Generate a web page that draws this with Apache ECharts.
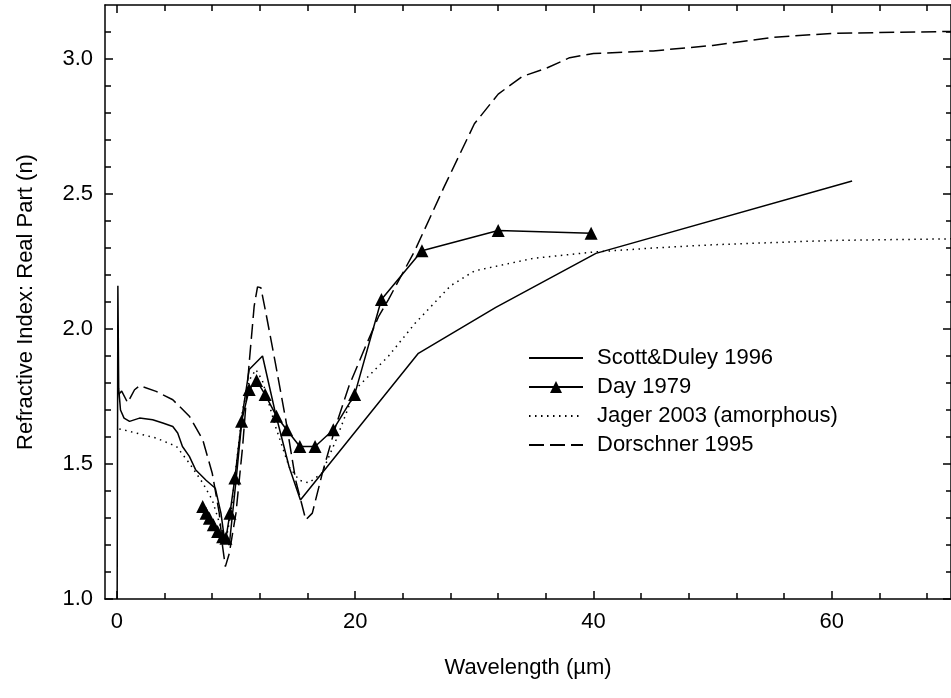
<!DOCTYPE html>
<html>
<head>
<meta charset="utf-8">
<script src="https://cdn.jsdelivr.net/npm/echarts@6/dist/echarts.min.js"></script>
<style>html,body{margin:0;padding:0;background:#fff}#c{width:951px;height:698px}</style>
</head>
<body>
<div id="c"></div>
<script>
const seriesNames = ['Scott&Duley 1996', 'Day 1979', 'Jager 2003 (amorphous)', 'Dorschner 1995'];
const xLabelTicks = [0, 20, 40, 60];
const xMinorTicks = [0,4,8,12,16,20,24,28,32,36,40,44,48,52,56,60,64,68];
const yLabelTicks = [1.0, 1.5, 2.0, 2.5, 3.0];
const yMinorTicks = [1.0,1.1,1.2,1.3,1.4,1.5,1.6,1.7,1.8,1.9,2.0,2.1,2.2,2.3,2.4,2.5,2.6,2.7,2.8,2.9,3.0,3.1];

const scottDuley = [[0.02,1.0],[0.08,2.16],[0.15,1.78],[0.3,1.70],[0.6,1.67],[1.06,1.658],[1.9,1.67],[3.0,1.664],[3.85,1.652],[4.69,1.639],[5.1,1.615],[5.5,1.565],[6.08,1.528],[6.6,1.479],[7.48,1.44],[8.26,1.41],[8.73,1.318],[9.0,1.231],[9.43,1.2],[10.0,1.44],[10.55,1.689],[11.1,1.85],[12.22,1.9],[13.3,1.689],[14.45,1.49],[15.4,1.367],[25.3,1.91],[31.8,2.08],[40.2,2.28],[61.7,2.548]];
const day1979 = [[7.2,1.343],[7.48,1.318],[7.76,1.299],[8.09,1.275],[8.45,1.25],[8.87,1.231],[9.15,1.225],[9.49,1.318],[9.9,1.448],[10.46,1.658],[11.1,1.776],[11.72,1.809],[12.44,1.757],[13.39,1.677],[14.25,1.627],[15.35,1.565],[16.63,1.565],[18.16,1.627],[19.95,1.757],[22.2,2.109],[25.6,2.29],[32.0,2.365],[39.8,2.355]];
const jager2003 = [[0.2,1.63],[0.5,1.627],[3.3,1.596],[5.0,1.565],[6.08,1.503],[7.2,1.43],[8.0,1.367],[8.7,1.268],[9.15,1.219],[9.57,1.318],[10.0,1.49],[10.55,1.70],[11.1,1.81],[11.66,1.85],[12.2,1.81],[13.3,1.64],[14.45,1.49],[15.3,1.44],[16.1,1.43],[17.2,1.466],[18.4,1.59],[20.0,1.776],[22.8,1.9],[25,2.02],[28,2.16],[30,2.215],[35,2.262],[40,2.285],[45,2.30],[50,2.312],[60,2.328],[70,2.334]];
const dorschner1995 = [[0.2,1.76],[0.4,1.77],[0.9,1.727],[1.48,1.775],[1.9,1.79],[3.29,1.769],[4.69,1.738],[6.08,1.677],[7.2,1.59],[8.0,1.466],[8.59,1.318],[8.87,1.194],[9.1,1.12],[9.43,1.169],[9.99,1.318],[10.55,1.565],[11.1,1.874],[11.52,2.085],[11.8,2.156],[12.08,2.153],[12.5,2.06],[13.3,1.874],[14.17,1.664],[15.0,1.44],[15.85,1.293],[16.4,1.318],[17.24,1.466],[18.36,1.64],[19.47,1.788],[20.87,1.936],[21.98,2.048],[22.8,2.11],[25,2.29],[27.5,2.53],[30,2.76],[32,2.87],[34,2.935],[36,2.965],[38,3.005],[40,3.02],[45,3.03],[50,3.05],[55,3.08],[60,3.095],[70,3.102]];

const FONT = 'Liberation Sans, Arial, sans-serif';
const chart = echarts.init(document.getElementById('c'), null, {renderer: 'canvas'});
const axLine = {show: true, onZero: false, lineStyle: {color: '#000', width: 1.5}};
const noLine = {show: false, onZero: false};
function xAx(pos, ticks, len, labels, line) {
  return {
    type: 'value', position: pos, min: -1, max: 70, gridIndex: 0,
    axisLine: line ? axLine : noLine,
    splitLine: {show: false},
    axisTick: {show: true, inside: true, length: len, customValues: ticks, lineStyle: {color: '#000', width: 1.5}},
    axisLabel: labels ? {show: true, customValues: xLabelTicks, fontSize: 22, fontFamily: FONT, color: '#000', margin: 12} : {show: false},
    name: labels ? 'Wavelength (\u00b5m)' : '',
    nameLocation: 'middle', nameGap: 58,
    nameTextStyle: {fontSize: 22, fontFamily: FONT, color: '#000'}
  };
}
function yAx(pos, ticks, len, labels, line) {
  return {
    type: 'value', position: pos, min: 1.0, max: 3.2, gridIndex: 0,
    axisLine: line ? axLine : noLine,
    splitLine: {show: false},
    axisTick: {show: true, inside: true, length: len, customValues: ticks, lineStyle: {color: '#000', width: 1.5}},
    axisLabel: labels ? {show: true, customValues: yLabelTicks, fontSize: 22, fontFamily: FONT, color: '#000', margin: 12, formatter: v => v.toFixed(1)} : {show: false},
    name: labels ? 'Refractive Index: Real Part (n)' : '',
    nameLocation: 'middle', nameGap: 68,
    nameTextStyle: {fontSize: 22, fontFamily: FONT, color: '#000'}
  };
}
const base = {type: 'line', xAxisIndex: 0, yAxisIndex: 0, showSymbol: false, symbol: 'none', smooth: false, animation: false, z: 3,
  lineStyle: {color: '#000', width: 1.5}, itemStyle: {color: '#000'}};
const hiddenMark = {color: 'rgba(0,0,0,0)', borderWidth: 0, borderColor: 'rgba(0,0,0,0)'};
const option = {
  animation: false,
  backgroundColor: '#fff',
  grid: {left: 105, top: 5, width: 849, height: 594, containLabel: false},
  legend: {
    orient: 'vertical', left: 528, top: 347, padding: 0, itemWidth: 54, itemHeight: 15, itemGap: 7,
    textStyle: {fontSize: 22, fontFamily: FONT, color: '#000', padding: [0,0,0,9]},
    data: [
      {name: seriesNames[0], itemStyle: hiddenMark},
      {name: seriesNames[1]},
      {name: seriesNames[2], itemStyle: hiddenMark},
      {name: seriesNames[3], itemStyle: hiddenMark}
    ],
    inactiveColor: '#000'
  },
  xAxis: [xAx('bottom', xLabelTicks, 8, true, true), xAx('bottom', xMinorTicks, 6, false, false),
          xAx('top', xLabelTicks, 8, false, true), xAx('top', xMinorTicks, 6, false, false)],
  yAxis: [yAx('left', yLabelTicks, 8, true, true), yAx('left', yMinorTicks, 6, false, false),
          yAx('right', yLabelTicks, 8, false, true), yAx('right', yMinorTicks, 5, false, false)],
  series: [
    Object.assign({}, base, {name: seriesNames[0], data: scottDuley}),
    Object.assign({}, base, {name: seriesNames[1], data: day1979, showSymbol: true, symbol: 'triangle', symbolSize: 13}),
    Object.assign({}, base, {name: seriesNames[2], data: jager2003, lineStyle: {color: '#000', width: 1.5, type: [1.5, 4.5]}}),
    Object.assign({}, base, {name: seriesNames[3], data: dorschner1995, lineStyle: {color: '#000', width: 1.5, type: [15, 6]}})
  ]
};
chart.setOption(option);
</script>
</body>
</html>
